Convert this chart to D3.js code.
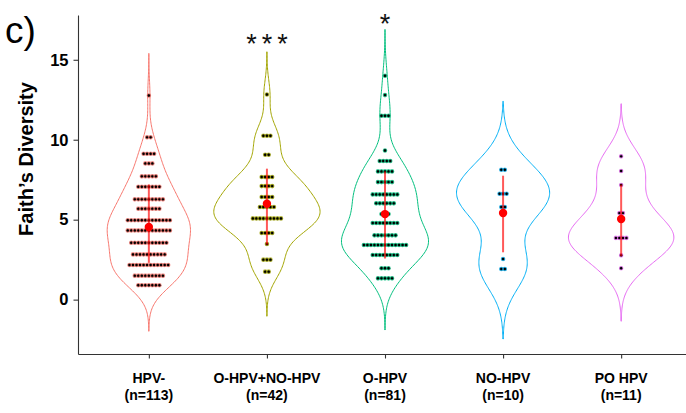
<!DOCTYPE html>
<html>
<head>
<meta charset="utf-8">
<script src="https://cdn.jsdelivr.net/npm/d3@7"></script>
<style>
  body { margin: 0; background: #fff; }
  svg { display: block; font-family: "Liberation Sans", Arial, Helvetica, sans-serif; }
</style>
</head>
<body>
<svg id="chart" width="686" height="413"></svg>
<script>
// ---- data -------------------------------------------------------------
const categories = ["HPV-", "O-HPV+NO-HPV", "O-HPV", "NO-HPV", "PO HPV"];
const groupSizes = [113, 42, 81, 10, 11];
const groupColors = ["#F8766D", "#A3A500", "#00BF7D", "#00B0F6", "#E76BF3"];

// dot-plot rows: binned Faith's PD level and number of samples in that bin
const dotLevels = [
  [12.77, 10.15, 9.125, 8.52, 7.71, 7.06, 6.27, 5.69, 4.96, 4.33, 3.56, 2.83, 2.17, 1.5, 0.9],
  [12.83, 10.25, 9.06, 7.67, 7.1, 6.42, 5.79, 5.08, 4.17, 3.48, 2.5, 1.75],
  [14.0, 12.79, 11.5, 9.33, 8.67, 8.02, 7.35, 6.58, 6.02, 5.35, 4.79, 4.02, 3.42, 2.79, 1.96, 1.33],
  [8.125, 6.625, 5.79, 2.54, 1.92],
  [8.96, 8.04, 7.17, 5.41, 3.86, 2.77, 1.96]
];
const dotCounts = [
  [1, 2, 4, 3, 5, 7, 9, 7, 13, 13, 11, 10, 12, 9, 7],
  [1, 3, 2, 4, 4, 4, 5, 9, 4, 1, 3, 2],
  [1, 1, 3, 1, 4, 5, 5, 8, 6, 3, 8, 7, 13, 8, 3, 5],
  [2, 3, 2, 1, 2],
  [1, 1, 1, 2, 4, 1, 1]
];

// group mean and error-bar ends
const groupMeans = [4.54, 6.0, 5.35, 5.42, 5.04];
const barLow = [2.3, 3.44, 2.58, 2.96, 2.72];
const barHigh = [7.2, 8.19, 8.02, 7.75, 7.2];

// extent of each (untrimmed) violin
const violinLow = [-1.98, -1.04, -1.9, -2.46, -1.35];
const violinHigh = [15.4, 15.5, 16.9, 12.4, 12.25];

// significance marks
const sigLabels = ["", "***", "*", "", ""];
const sigLevel = [null, 15.45, 16.7, null, null];

const yTicks = [0, 5, 10, 15];
const yTitle = "Faith\u2019s Diversity";
const panelTag = "c)";

// ---- layout -----------------------------------------------------------
const svg = d3.select("#chart");
const x = d3.scalePoint().domain(categories).range([78, 692]).padding(0.6);
const y = d3.scaleLinear().domain([-3.4, 17.8]).range([354, 15]);

// ---- violins (gaussian KDE, untrimmed, scaled by area) ----------------
const gauss = u => Math.exp(-0.5 * u * u) / Math.sqrt(2 * Math.PI);
const groups = categories.map((c, i) => {
  const values = [];
  dotLevels[i].forEach((v, k) => { for (let j = 0; j < dotCounts[i][k]; j++) values.push(v); });
  const [mn, mx] = d3.extent(values);
  const span = violinHigh[i] - violinLow[i];
  const bw = (span - (mx - mn)) / 6;
  const grid = d3.range(200).map(k => violinLow[i] + span * k / 199);
  const dens = grid.map(t => ({ v: t, d: d3.mean(values, s => gauss((t - s) / bw)) / bw }));
  return { cat: c, i, values, dens };
});
const maxDens = d3.max(groups, g => d3.max(g.dens, p => p.d));
const halfW = d3.scaleLinear().domain([0, maxDens]).range([0, 0.45 * x.step()]);

const violinG = svg.append("g");
groups.forEach(g => {
  const cx = x(g.cat);
  const area = d3.area()
    .y(p => y(p.v))
    .x0(p => cx - halfW(p.d))
    .x1(p => cx + halfW(p.d));
  violinG.append("path")
    .attr("d", area(g.dens))
    .attr("fill", "none")
    .attr("stroke", groupColors[g.i])
    .attr("stroke-width", 1);
});

// ---- dot plot (centre-stacked) ----------------------------------------
const pitch = y(0) - y(0.22);
const dotG = svg.append("g");
groups.forEach(g => {
  const cx = x(g.cat);
  dotLevels[g.i].forEach((v, k) => {
    const n = dotCounts[g.i][k];
    d3.range(n).forEach(j => {
      dotG.append("circle")
        .attr("cx", cx + (j - (n - 1) / 2) * pitch)
        .attr("cy", y(v))
        .attr("r", 1.75)
        .attr("fill", "#000")
        .attr("stroke", groupColors[g.i])
        .attr("stroke-opacity", 0.7)
        .attr("stroke-width", 1.1);
    });
  });
});

// ---- mean +/- error bar -----------------------------------------------
const statG = svg.append("g");
categories.forEach((c, i) => {
  statG.append("line")
    .attr("x1", x(c)).attr("x2", x(c))
    .attr("y1", y(barLow[i])).attr("y2", y(barHigh[i]))
    .attr("stroke", "#ff0000")
    .attr("stroke-opacity", 0.65)
    .attr("stroke-width", 2);
  statG.append("circle")
    .attr("cx", x(c)).attr("cy", y(groupMeans[i]))
    .attr("r", 4.2)
    .attr("fill", "#ff0000");
});

// ---- significance asterisks -------------------------------------------
categories.forEach((c, i) => {
  if (!sigLabels[i]) return;
  svg.append("text")
    .attr("x", x(c) + 2.5)
    .attr("y", y(sigLevel[i]))
    .attr("text-anchor", "middle")
    .attr("font-size", 27)
    .attr("letter-spacing", 5)
    .attr("fill", "#111")
    .text(sigLabels[i]);
});

// ---- axes ---------------------------------------------------------------
const axisColor = "#333";
const yAxis = svg.append("g")
  .attr("transform", `translate(${78},0)`)
  .call(d3.axisLeft(y).tickValues(yTicks).tickSize(4.5).tickSizeOuter(0).tickPadding(5));
yAxis.selectAll("text")
  .attr("font-size", 16.5).attr("font-weight", "bold").attr("fill", "#000")
  .attr("font-family", "'Liberation Sans', Arial, sans-serif");

const xAxis = svg.append("g")
  .attr("transform", `translate(0,${354})`)
  .call(d3.axisBottom(x).tickSize(4.5).tickSizeOuter(0).tickFormat(""));

[yAxis, xAxis].forEach(a => {
  a.select(".domain").attr("stroke", axisColor).attr("stroke-width", 1.1);
  a.selectAll(".tick line").attr("stroke", axisColor).attr("stroke-width", 1.1);
});

// two-line category labels
categories.forEach((c, i) => {
  const t = svg.append("text")
    .attr("text-anchor", "middle")
    .attr("font-size", 14)
    .attr("font-weight", "bold")
    .attr("fill", "#000");
  t.append("tspan").attr("x", x(c)).attr("y", 383).text(c);
  t.append("tspan").attr("x", x(c)).attr("y", 400).text(`(n=${groupSizes[i]})`);
});

// y axis title
svg.append("text")
  .attr("transform", `translate(${33},${159}) rotate(-90)`)
  .attr("text-anchor", "middle")
  .attr("font-size", 20)
  .attr("font-weight", "bold")
  .attr("fill", "#000")
  .text(yTitle);

// panel tag
svg.append("text")
  .attr("x", 5).attr("y", 43)
  .attr("font-size", 37)
  .attr("fill", "#000")
  .text(panelTag);
</script>
</body>
</html>
